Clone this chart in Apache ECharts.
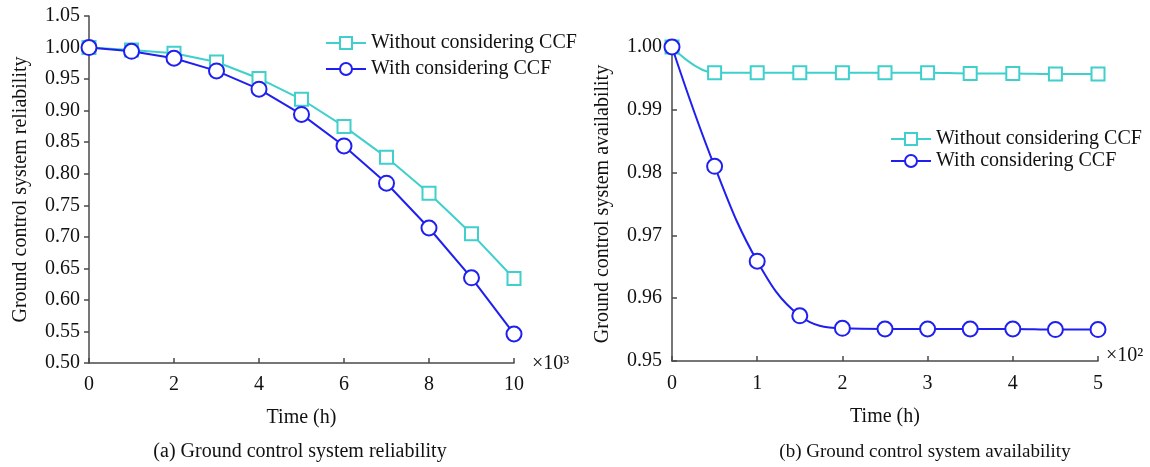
<!DOCTYPE html>
<html>
<head>
<meta charset="utf-8">
<script src="https://cdn.jsdelivr.net/npm/echarts@6/dist/echarts.min.js"></script>
<style>
  html, body { margin: 0; padding: 0; background: #fff; }
  #chart { width: 1150px; height: 467px; }
</style>
</head>
<body>
<div id="chart"></div>
<script>
// (a) reliability vs. time, time in units of 10^3 h
const relTime = [0, 1, 2, 3, 4, 5, 6, 7, 8, 9, 10];
const relWithout = [1.000, 0.996, 0.991, 0.977, 0.951, 0.918, 0.875, 0.826, 0.769, 0.705, 0.634];
const relWith = [1.000, 0.994, 0.983, 0.963, 0.934, 0.894, 0.844, 0.785, 0.714, 0.635, 0.546];

// (b) availability vs. time, time in units of 10^2 h
const avTime = [0, 0.5, 1, 1.5, 2, 2.5, 3, 3.5, 4, 4.5, 5];
const avWithout = [1.0000, 0.9959, 0.9959, 0.9959, 0.9959, 0.9959, 0.9959, 0.9958, 0.9958, 0.9957, 0.9957];
const avWith = [1.0000, 0.9810, 0.9659, 0.9572, 0.9552, 0.9551, 0.9551, 0.9551, 0.9551, 0.9550, 0.9550];

const seriesNames = ['Without considering CCF', 'With considering CCF'];
const captions = ['(a) Ground control system reliability', '(b) Ground control system availability'];

const CYAN = '#3fd0cc';
const BLUE = '#1f1ff0';
const FONT = '"Liberation Serif", "Times New Roman", serif';
const AXIS = '#4a4a4a';

const zip = (xs, ys) => xs.map((x, i) => [x, ys[i]]);

function lineSeries(name, color, symbol, size, xi, data, smooth) {
  return {
    name, type: 'line', xAxisIndex: xi, yAxisIndex: xi,
    data, smooth,
    symbol, symbolSize: size, showAllSymbol: true,
    color,
    lineStyle: { color, width: 2 },
    itemStyle: { color, borderWidth: 1.6 },
    emphasis: { disabled: true },
    z: name === seriesNames[1] ? 3 : 2
  };
}

const axisText = { color: '#111', fontFamily: FONT, fontSize: 20 };
const legendBase = {
  orient: 'vertical', padding: 0, itemWidth: 40, itemHeight: 15, selectedMode: false,
  textStyle: { color: '#111', fontFamily: FONT, fontSize: 20 },
  data: seriesNames
};

const chart = echarts.init(document.getElementById('chart'), null, { renderer: 'canvas' });
chart.setOption({
  animation: false,
  backgroundColor: '#fff',
  textStyle: { fontFamily: FONT },
  grid: [
    { left: 89, top: 16, width: 425, height: 347 },
    { left: 672, top: 47, width: 426, height: 314 }
  ],
  xAxis: [
    {
      gridIndex: 0, type: 'value', min: 0, max: 10, interval: 2,
      name: 'Time (h)', nameLocation: 'middle', nameGap: 45,
      nameTextStyle: axisText,
      axisLine: { lineStyle: { color: AXIS, width: 1.5 } },
      axisTick: { inside: true, length: 5, lineStyle: { color: AXIS, width: 1.5 } },
      axisLabel: Object.assign({ margin: 12 }, axisText),
      splitLine: { show: false }
    },
    {
      gridIndex: 1, type: 'value', min: 0, max: 5, interval: 1,
      name: 'Time (h)', nameLocation: 'middle', nameGap: 46,
      nameTextStyle: axisText,
      axisLine: { lineStyle: { color: AXIS, width: 1.5 } },
      axisTick: { inside: true, length: 5, lineStyle: { color: AXIS, width: 1.5 } },
      axisLabel: Object.assign({ margin: 13 }, axisText),
      splitLine: { show: false }
    }
  ],
  yAxis: [
    {
      gridIndex: 0, type: 'value', min: 0.5, max: 1.05, interval: 0.05,
      name: 'Ground control system reliability', nameLocation: 'middle', nameGap: 58,
      nameTextStyle: axisText,
      axisLine: { show: true, lineStyle: { color: AXIS, width: 1.5 } },
      axisTick: { show: true, inside: false, length: 5, lineStyle: { color: AXIS, width: 1.5 } },
      axisLabel: Object.assign({ margin: 9, formatter: v => v.toFixed(2) }, axisText),
      splitLine: { show: false }
    },
    {
      gridIndex: 1, type: 'value', min: 0.95, max: 1.0, interval: 0.01,
      name: 'Ground control system availability', nameLocation: 'middle', nameGap: 59,
      nameTextStyle: axisText,
      axisLine: { show: true, lineStyle: { color: AXIS, width: 1.5 } },
      axisTick: { show: true, inside: true, length: 5, lineStyle: { color: AXIS, width: 1.5 } },
      axisLabel: Object.assign({ margin: 10, formatter: v => v.toFixed(2) }, axisText),
      splitLine: { show: false }
    }
  ],
  legend: [
    Object.assign({ left: 325, top: 33, itemGap: 6 }, legendBase),
    Object.assign({ left: 890, top: 129, itemGap: 2 }, legendBase)
  ],
  series: [
    lineSeries(seriesNames[0], CYAN, 'emptyRect', 13, 0, zip(relTime, relWithout), false),
    lineSeries(seriesNames[1], BLUE, 'emptyCircle', 15, 0, zip(relTime, relWith), false),
    lineSeries(seriesNames[0], CYAN, 'emptyRect', 13, 1, zip(avTime, avWithout), 0.4),
    lineSeries(seriesNames[1], BLUE, 'emptyCircle', 15, 1, zip(avTime, avWith), 0.4)
  ],
  graphic: [
    { type: 'text', left: 532, top: 354, style: { text: '×10³', font: '20px ' + FONT, fill: '#111' } },
    { type: 'text', left: 1106, top: 346, style: { text: '×10²', font: '20px ' + FONT, fill: '#111' } },
    { type: 'text', x: 300, y: 452, style: { text: captions[0], font: '20px ' + FONT, fill: '#111', align: 'center', verticalAlign: 'middle' } },
    { type: 'text', x: 925, y: 452, style: { text: captions[1], font: '19px ' + FONT, fill: '#111', align: 'center', verticalAlign: 'middle' } }
  ]
});
</script>
</body>
</html>
